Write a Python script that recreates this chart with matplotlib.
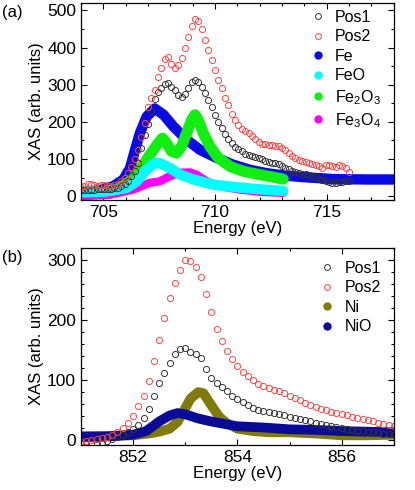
import numpy as np
import matplotlib.pyplot as plt
from matplotlib.lines import Line2D
from matplotlib.ticker import MultipleLocator

plt.rcParams['font.family'] = ['Liberation Sans', 'DejaVu Sans']
plt.rcParams['mathtext.fontset'] = 'custom'
plt.rcParams['mathtext.rm'] = 'Liberation Sans'
plt.rcParams['mathtext.it'] = 'Liberation Sans'

# ---------------- panel (a): Fe L3 edge ----------------
# measured spectra, 0.15 eV step starting at 704.0 eV
fe_start, fe_step = 704.0, 0.15
pos1_a = [18, 18, 18, 18, 18, 19, 19, 19, 20, 20, 21, 23, 27, 33, 42, 55, 68, 88,
          130, 165, 195, 230, 262, 280, 290, 302, 304, 295, 285, 272, 268, 275, 290,
          308, 312, 308, 295, 277, 259, 241, 219, 200, 183, 167, 153, 142, 132, 126,
          121, 114, 110, 108, 106, 104, 100, 95, 92, 90, 88, 86, 82, 77, 73, 68, 65,
          62, 61, 59, 57, 55, 51, 46, 43, 41, 39, 36, 36, 37, 38, 40, 40]
pos2_a = [25, 28, 32, 33, 30, 28, 30, 31, 28, 27, 30, 34, 40, 50, 62, 78, 100, 125,
          160, 198, 240, 265, 285, 320, 345, 370, 375, 355, 345, 352, 372, 398, 428,
          458, 476, 472, 450, 420, 393, 366, 339, 312, 290, 263, 245, 222, 205, 192,
          182, 176, 170, 163, 155, 146, 141, 140, 139, 137, 136, 134, 130, 123, 115,
          108, 103, 98, 96, 92, 90, 86, 84, 80, 76, 84, 85, 80, 78, 84, 82, 75, 65]

# reference spectra
fe_e = [704.0, 704.85, 705.45, 705.9, 706.2, 706.4, 706.64, 706.94, 707.3, 707.7,
        708.13, 708.73, 709.32, 710.07, 710.8, 711.56, 712.3, 713.05, 713.8, 714.54,
        715.3, 716.8, 718.0]
fe_v = [11, 16, 27, 45, 76, 120, 170, 214, 236, 219, 188, 152, 125, 103, 85, 71,
        62, 56, 52, 49, 46, 45, 45]
fe2o3_e = [704.0, 704.85, 705.6, 706.2, 706.64, 707.09, 707.46, 707.65, 707.83,
           708.05, 708.28, 708.5, 708.73, 708.95, 709.1, 709.25, 709.47, 709.77,
           710.14, 710.67, 711.26, 712.0, 713.05]
fe2o3_v = [11, 12, 18, 40, 71, 112, 143, 156, 143, 121, 116, 134, 170, 205, 219,
           205, 170, 134, 103, 80, 67, 58, 46]
feo_e = [704.0, 705.15, 706.04, 706.5, 706.94, 707.3, 707.53, 707.98, 708.43,
         709.03, 709.92, 710.8, 711.7, 713.05]
feo_v = [11, 13, 22, 40, 71, 89, 89, 76, 58, 45, 31, 25, 20, 14]
fe3o4_e = [704.0, 705.3, 706.34, 707.09, 707.53, 707.98, 708.43, 708.88, 709.17,
           709.62, 710.2, 711.1, 712.0, 713.05]
fe3o4_v = [0, 4, 18, 36, 40, 54, 63, 64, 58, 40, 27, 18, 12, 9]

# ---------------- panel (b): Ni L3 edge ----------------
ni_start, ni_step = 851.0, 0.1
pos1_b = [-6, -6, -6, -6, -5, -2, 2, 5, 9, 13, 18, 25, 36, 52, 73, 95, 111, 128,
          143, 152, 154, 147, 144, 136, 119, 104, 95, 88, 81, 74, 68, 64, 59, 54, 50,
          48, 47, 45, 43, 41, 39, 37, 35, 33, 31, 29, 27, 25, 23, 22, 20, 18, 17, 16,
          15, 14, 13, 12, 11, 10, 9]
pos2_b = [-3, -2, 0, 2, 4, 6, 9, 14, 21, 28, 40, 56, 74, 98, 132, 167, 204, 236,
          261, 283, 300, 298, 289, 271, 243, 214, 185, 165, 148, 135, 124, 114, 107,
          100, 94, 90, 87, 84, 81, 78, 74, 70, 66, 62, 58, 55, 52, 50, 47, 45, 43, 41,
          39, 37, 35, 33, 31, 29, 27, 26, 24]

ni_e = [851.0, 851.5, 852.0, 852.3, 852.5, 852.7, 852.85, 853.0, 853.1, 853.25,
        853.35, 853.5, 853.65, 853.8, 854.0, 854.3, 854.6, 855.0, 855.5, 856.0,
        856.5, 857.0]
ni_v = [6, 7, 8, 11, 14, 19, 30, 53, 69, 80, 78, 58, 39, 28, 19, 15, 13, 13, 11,
        8, 8, 9]
nio_e = [851.0, 851.5, 852.0, 852.25, 852.5, 852.7, 852.85, 853.0, 853.25, 853.5,
         854.0, 854.5, 855.0, 855.5, 856.0, 856.5, 857.0]
nio_v = [6, 6, 9, 15, 31, 41, 45, 43, 36, 31, 23, 21, 18, 17, 15, 14, 13]

fig = plt.figure(figsize=(4.15, 4.90), dpi=100)
ax1 = fig.add_axes([0.195, 0.592, 0.754, 0.402])
ax2 = fig.add_axes([0.195, 0.092, 0.754, 0.402])

open_kw = dict(ls='none', marker='o', ms=4.4, mfc='none', mew=0.7)
band_kw = dict(solid_capstyle='round', solid_joinstyle='round')

# panel (a)
pos_e_a = fe_start + fe_step * np.arange(len(pos1_a))
ax1.plot(fe_e, fe_v, color='#0a0ae6', lw=7.5, **band_kw)
ax1.plot(fe3o4_e, fe3o4_v, color='#ff00ff', lw=6, **band_kw)
ax1.plot(fe2o3_e, fe2o3_v, color='#11ee11', lw=8, **band_kw)
ax1.plot(feo_e, feo_v, color='#00ffff', lw=7.5, **band_kw)
ax1.plot(pos_e_a, pos1_a, mec='#333333', **open_kw)
ax1.plot(pos_e_a[:len(pos2_a)], pos2_a, mec='#ff4444', **open_kw)

handles_a = [
    Line2D([], [], ls='none', marker='o', ms=4.2, mfc='none', mec='#333333', mew=0.7),
    Line2D([], [], ls='none', marker='o', ms=4.2, mfc='none', mec='#ff4444', mew=0.7),
    Line2D([], [], ls='none', marker='o', ms=5, color='#0a0ae6'),
    Line2D([], [], ls='none', marker='o', ms=5, color='#00ffff'),
    Line2D([], [], ls='none', marker='o', ms=5, color='#11ee11'),
    Line2D([], [], ls='none', marker='o', ms=5, color='#ff00ff'),
]
labels_a = ['Pos1', 'Pos2', 'Fe', 'FeO', 'Fe$_2$O$_3$', 'Fe$_3$O$_4$']
ax1.legend(handles_a, labels_a, loc='upper right', frameon=False, fontsize=11.5,
           handlelength=1.0, handletextpad=0.6, labelspacing=0.28,
           borderaxespad=0.1, bbox_to_anchor=(0.985, 1.005))

ax1.set_xlim(704, 718)
ax1.set_ylim(-10, 520)
ax1.xaxis.set_major_locator(MultipleLocator(5))
ax1.xaxis.set_minor_locator(MultipleLocator(1))
ax1.yaxis.set_major_locator(MultipleLocator(100))
ax1.yaxis.set_minor_locator(MultipleLocator(50))

# panel (b)
pos_e_b = ni_start + ni_step * np.arange(len(pos1_b))
ax2.plot(ni_e, ni_v, color='#7f7a0a', lw=7, **band_kw)
ax2.plot(nio_e, nio_v, color='#0a0a96', lw=7, **band_kw)
ax2.plot(pos_e_b, pos1_b, mec='#333333', **open_kw)
ax2.plot(pos_e_b[:len(pos2_b)], pos2_b, mec='#ff4444', **open_kw)

handles_b = [
    Line2D([], [], ls='none', marker='o', ms=4.2, mfc='none', mec='#333333', mew=0.7),
    Line2D([], [], ls='none', marker='o', ms=4.2, mfc='none', mec='#ff4444', mew=0.7),
    Line2D([], [], ls='none', marker='o', ms=5, color='#7f7a0a'),
    Line2D([], [], ls='none', marker='o', ms=5, color='#0a0a96'),
]
ax2.legend(handles_b, ['Pos1', 'Pos2', 'Ni', 'NiO'], loc='upper right', frameon=False,
           fontsize=11.5, handlelength=1.0, handletextpad=0.6, labelspacing=0.28,
           borderaxespad=0.1, bbox_to_anchor=(0.985, 0.975))

ax2.set_xlim(851, 857)
ax2.set_ylim(-8, 320)
ax2.xaxis.set_major_locator(MultipleLocator(2))
ax2.xaxis.set_minor_locator(MultipleLocator(1))
ax2.yaxis.set_major_locator(MultipleLocator(100))
ax2.yaxis.set_minor_locator(MultipleLocator(20))

for ax in (ax1, ax2):
    ax.set_xlabel('Energy (eV)', fontsize=12, labelpad=1)
    ax.set_ylabel('XAS (arb. units)', fontsize=12, labelpad=2)
    ax.tick_params(which='both', direction='in', top=True, right=True,
                   labelsize=12.5, width=0.8)
    ax.tick_params(which='major', length=4.5)
    ax.tick_params(which='minor', length=2.5)
    for s in ax.spines.values():
        s.set_linewidth(0.9)

fig.text(0.005, 0.975, '(a)', fontsize=12, va='center')
fig.text(0.005, 0.475, '(b)', fontsize=12, va='center')

fig.savefig('out.png', dpi=100)
